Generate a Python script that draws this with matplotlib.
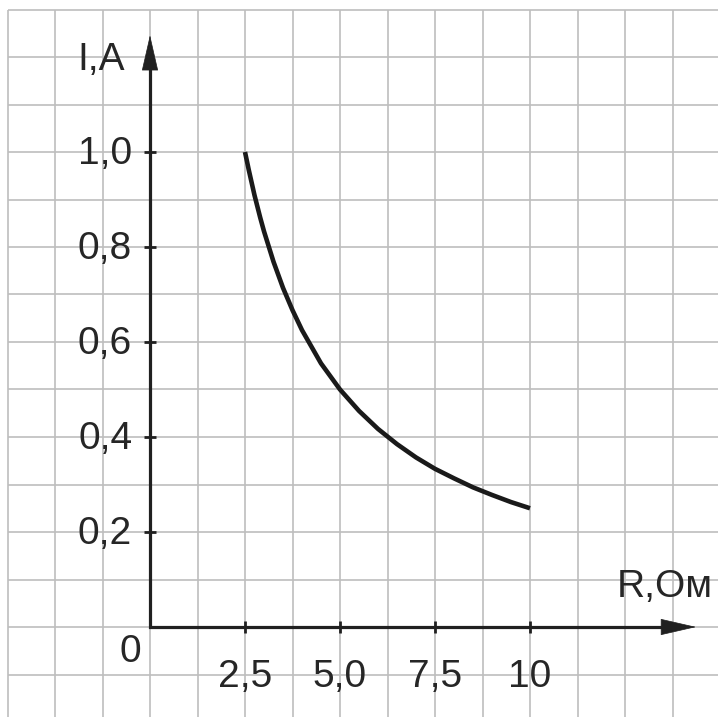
import matplotlib.pyplot as plt
import numpy as np

plt.rcParams['font.family'] = ['Liberation Sans', 'DejaVu Sans']

# values: current I (A) against resistance R (Ohm)
r_ohm = [2.5, 2.6, 2.75, 2.9, 3.0, 3.25, 3.5, 3.75, 4.0, 4.5, 5.0, 5.5, 6.0, 6.5, 7.0,
         7.5, 8.0, 8.5, 9.0, 9.5, 10.0]
i_amp = [1.0, 0.962, 0.909, 0.862, 0.833, 0.769, 0.714, 0.667, 0.625, 0.555, 0.5, 0.455,
         0.417, 0.385, 0.357, 0.333, 0.313, 0.294, 0.278, 0.263, 0.25]

x_ticks = [2.5, 5.0, 7.5, 10.0]
x_labels = ['2,5', '5,0', '7,5', '10']
y_ticks = [0.2, 0.4, 0.6, 0.8, 1.0]
y_labels = ['0,2', '0,4', '0,6', '0,8', '1,0']

ink = '#202020'
text_col = '#262626'
grid_col = '#bebebe'
fs = 28

fig = plt.figure(figsize=(7.18, 7.17), dpi=100)
ax = fig.add_axes([0, 0, 1, 1])
# 38 px per ohm, 475 px per ampere, origin at pixel (150, 627)
ax.set_xlim(-150 / 38, 568 / 38)
ax.set_ylim(-90 / 475, 627 / 475)
ax.axis('off')

# squared paper: cells of 1.25 Ohm x 0.1 A
gx = np.arange(-3.75, 14.0, 1.25)
gy = np.arange(-0.1, 1.35, 0.1)
ax.vlines(gx, -0.2, 1.3, color=grid_col, lw=1.2, zorder=1)
ax.hlines(gy, -3.75, 15.0, color=grid_col, lw=1.2, zorder=1)

# axes with arrows
y_tip = 1.246
x_tip = 14.37
ax.plot([0, 0, x_tip - 0.5], [y_tip - 0.03, 0, 0], color=ink, lw=2.3,
        solid_joinstyle='miter', zorder=3)
arrow = dict(arrowstyle='-|>,head_length=2.4,head_width=0.55', mutation_scale=10,
             color=ink, lw=0.5, shrinkA=0, shrinkB=0)
ax.annotate('', xy=(0, y_tip), xytext=(0, y_tip - 0.1), arrowprops=arrow, zorder=3)
ax.annotate('', xy=(x_tip, 0), xytext=(x_tip - 1.2, 0), arrowprops=arrow, zorder=3)

# tick marks
ax.plot([0] * len(y_ticks), y_ticks, ls='none', marker='_', ms=9, mew=2, color=ink, zorder=3)
ax.plot(x_ticks, [0] * len(x_ticks), ls='none', marker='|', ms=9, mew=2, color=ink, zorder=3)

# tick labels
for v, lab in zip(y_ticks, y_labels):
    ax.text(-0.47, v - 0.025, lab, ha='right', va='baseline', fontsize=fs, color=text_col)
for v, lab in zip(x_ticks, x_labels):
    ax.text(v, -0.126, lab, ha='center', va='baseline', fontsize=fs, color=text_col)
ax.text(-0.526, -0.074, '0', ha='center', va='baseline', fontsize=fs, color=text_col)

# axis names
ax.text(-1.29, 1.1726, 'I,A', ha='center', va='baseline', fontsize=fs, color=text_col)
ax.text(13.54, 0.063, 'R,Ом', ha='center', va='baseline', fontsize=fs, color=text_col)

# the curve
ax.plot(r_ohm, i_amp, color='#1a1a1a', lw=3.3, solid_capstyle='butt',
        solid_joinstyle='round', zorder=4)

fig.savefig('out.png', dpi=100)
